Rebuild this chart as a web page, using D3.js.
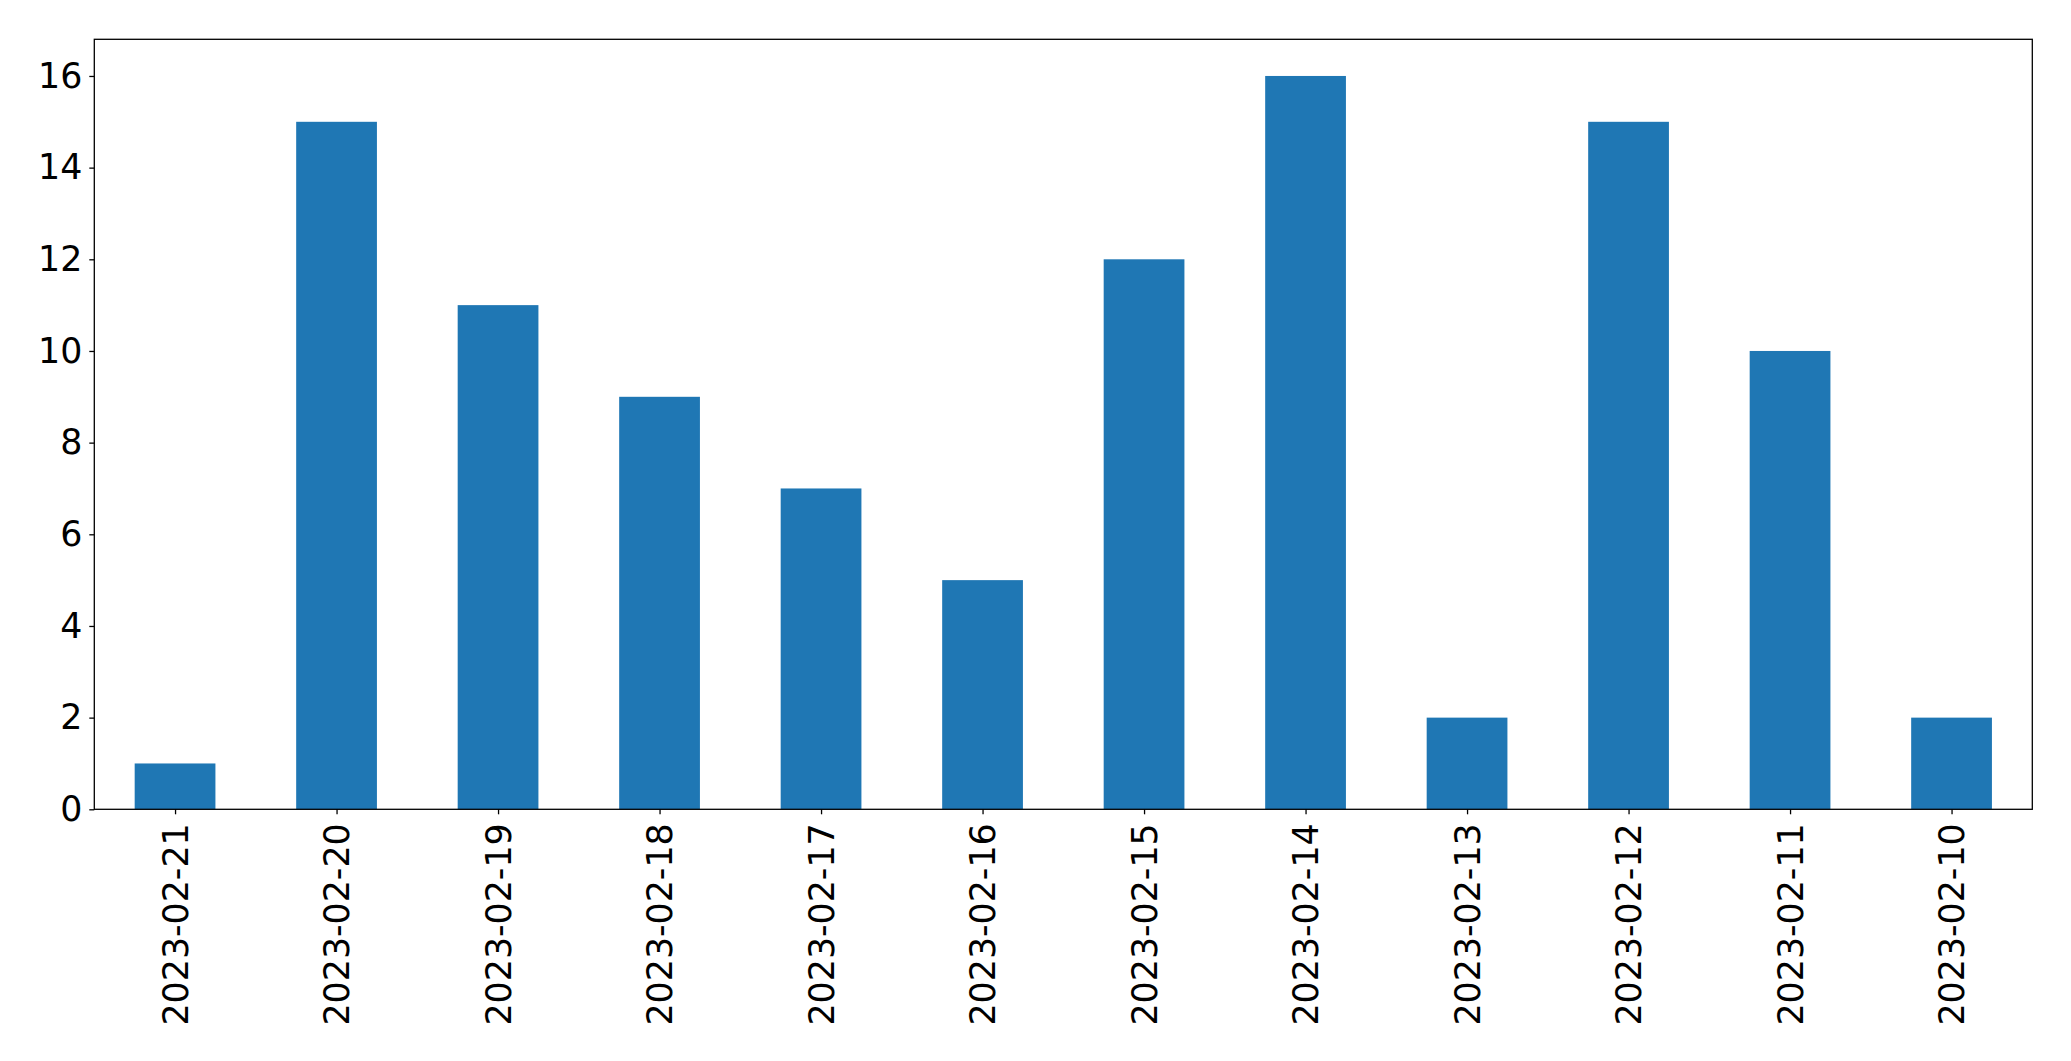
<!DOCTYPE html>
<html><head><meta charset="utf-8">
<script src="https://cdn.jsdelivr.net/npm/d3@7"></script>
<style>body{margin:0;background:#fff}svg{display:block}</style>
</head><body>
<script>
const categories = ["2023-02-21","2023-02-20","2023-02-19","2023-02-18","2023-02-17","2023-02-16","2023-02-15","2023-02-14","2023-02-13","2023-02-12","2023-02-11","2023-02-10"];
const values = [1,15,11,9,7,5,12,16,2,15,10,2];
const yTicks = [0,2,4,6,8,10,12,14,16];

const W = 2071, H = 1061;
const m = {left: 94.3, right: 2032.3, top: 39.3, bottom: 809.3};
const fs = 34.8;
const svg = d3.select("body").append("svg").attr("width", W).attr("height", H);

const x = d3.scaleLinear().domain([-0.5, categories.length - 0.5]).range([m.left, m.right]);
const y = d3.scaleLinear().domain([0, 16.8]).range([m.bottom, m.top]);

svg.append("g").selectAll("rect").data(values).join("rect")
  .attr("x", (d, i) => x(i - 0.25)).attr("width", (d, i) => x(i + 0.25) - x(i - 0.25))
  .attr("y", d => y(d)).attr("height", d => y(0) - y(d))
  .attr("fill", "#1f77b4");

const yAxis = svg.append("g").attr("transform", `translate(${m.left},0)`)
  .call(d3.axisLeft(y).tickValues(yTicks).tickSize(5).tickPadding(7).tickFormat(d3.format("d")));
yAxis.select(".domain").remove();
yAxis.selectAll("line").attr("stroke", "#000").attr("stroke-width", 1.3);
yAxis.selectAll("text").attr("font-family", "DejaVu Sans").attr("font-size", fs).attr("fill", "#000");

const xAxis = svg.append("g").attr("transform", `translate(0,${m.bottom})`)
  .call(d3.axisBottom(x).tickValues(d3.range(categories.length)).tickSize(5).tickFormat(i => categories[i]));
xAxis.select(".domain").remove();
xAxis.selectAll("line").attr("stroke", "#000").attr("stroke-width", 1.3);
xAxis.selectAll("text")
  .attr("font-family", "DejaVu Sans").attr("font-size", fs).attr("fill", "#000")
  .attr("transform", "rotate(-90)").attr("text-anchor", "end")
  .attr("x", -14).attr("y", 0).attr("dy", "0.35em");

svg.append("rect").attr("x", m.left).attr("y", m.top)
  .attr("width", m.right - m.left).attr("height", m.bottom - m.top)
  .attr("fill", "none").attr("stroke", "#000").attr("stroke-width", 1.3);
</script>
</body></html>
